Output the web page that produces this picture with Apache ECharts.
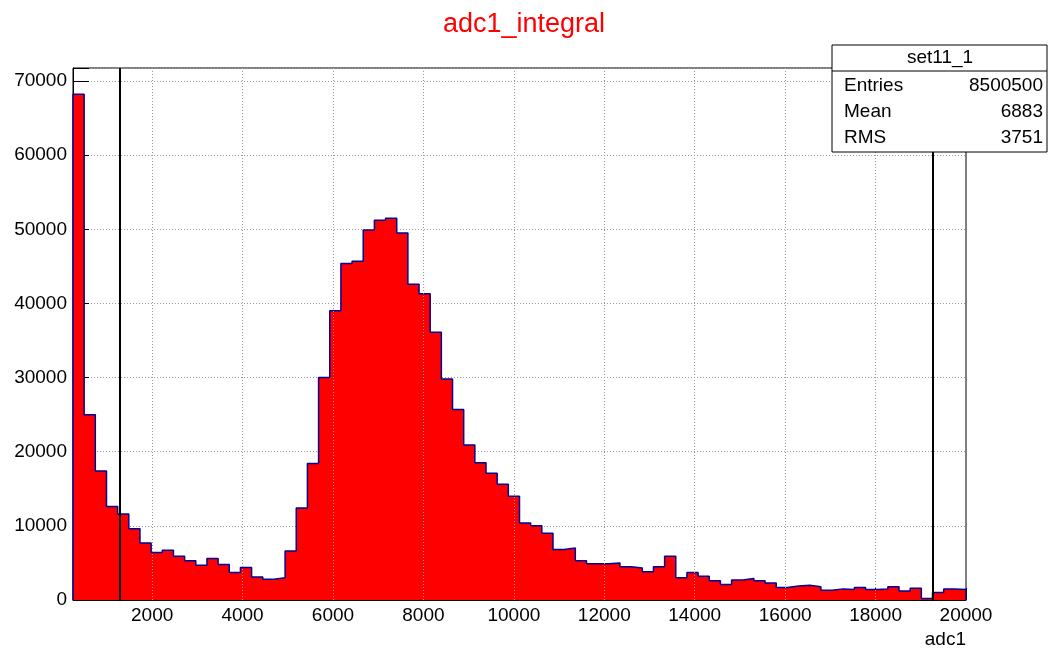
<!DOCTYPE html>
<html><head><meta charset="utf-8">
<script src="https://cdn.jsdelivr.net/npm/echarts@6/dist/echarts.min.js"></script>
<style>html,body{margin:0;padding:0;background:#fff}#main{width:1048px;height:648px}</style>
</head><body><div id="main"></div>
<script>
var binStart = 250;
var binEnd = 20000;
var counts = [68200, 25000, 17400, 12600, 11600, 9600, 7700, 6400, 6700, 5900,
  5300, 4700, 5600, 4800, 3700, 4400, 3100, 2800, 3000, 6600,
  12400, 18400, 30000, 39000, 45400, 45700, 49900, 51200, 51500, 49500,
  42600, 41300, 36100, 29800, 25700, 20900, 18500, 17100, 15600, 14000,
  10400, 10000, 9000, 6800, 7000, 5300, 4900, 4900, 5000, 4500,
  4300, 3800, 4500, 5900, 3000, 3700, 3200, 2600, 2100, 2700,
  2900, 2600, 2300, 1700, 1900, 2000, 1800, 1300, 1500, 1400,
  1700, 1400, 1500, 1800, 1200, 1600, 200, 1000, 1500, 1400];
var xTicks = [2000, 4000, 6000, 8000, 10000, 12000, 14000, 16000, 18000, 20000];
var cutLines = [1290, 19270];
var stats = [['Entries', '8500500'], ['Mean', '6883'], ['RMS', '3751']];

var binWidth = (binEnd - binStart) / counts.length;
var pts = [[binStart, 0]];
for (var i = 0; i < counts.length; i++) {
  pts.push([binStart + i * binWidth, counts[i]]);
}
pts.push([binEnd, counts[counts.length - 1]]);
pts.push([binEnd, 0]);

var chart = echarts.init(document.getElementById('main'));
var font = 'Liberation Sans';
var statsGraphics = [{
  type: 'rect', shape: {x: 832, y: 45, width: 215, height: 107},
  style: {fill: '#fff', stroke: '#000', lineWidth: 1}, z: 100
}, {
  type: 'line', shape: {x1: 832, y1: 71, x2: 1047, y2: 71},
  style: {stroke: '#000', lineWidth: 1}, z: 101
}, {
  type: 'text', x: 940, y: 48,
  style: {text: 'set11_1', font: '19px ' + font, fill: '#000', textAlign: 'center'}, z: 101
}];
stats.forEach(function (s, k) {
  statsGraphics.push({type: 'text', x: 844, y: 76 + k * 26,
    style: {text: s[0], font: '19px ' + font, fill: '#000'}, z: 101});
  statsGraphics.push({type: 'text', x: 1043, y: 76 + k * 26,
    style: {text: s[1], font: '19px ' + font, fill: '#000', textAlign: 'right'}, z: 101});
});

chart.setOption({
  animation: false,
  title: {text: 'adc1_integral', left: 'center', top: 6,
    textStyle: {color: '#ff0000', fontSize: 27, fontWeight: 'normal', fontFamily: font}},
  grid: {left: 73, right: 82, top: 68, bottom: 48, outerBoundsMode: 'none',
    show: true, borderColor: '#000', borderWidth: 1},
  xAxis: {
    type: 'value', min: binStart, max: binEnd,
    name: 'adc1', nameLocation: 'end', nameGap: 0,
    nameTextStyle: {fontFamily: font, fontSize: 19, color: '#000', align: 'right', verticalAlign: 'top', padding: [30, 0, 0, 0]},
    axisLine: {lineStyle: {color: '#000'}},
    axisTick: {show: true, customValues: xTicks, inside: true, length: 12, lineStyle: {color: '#000'}},
    axisLabel: {customValues: xTicks, color: '#000', fontSize: 19, fontFamily: font, margin: 6,
      formatter: function (v) { return String(v); }},
    splitLine: {show: false}
  },
  yAxis: {
    type: 'value', min: 0, max: 71750, interval: 10000,
    axisLine: {show: true, lineStyle: {color: '#000'}},
    axisTick: {show: true, inside: true, length: 16, lineStyle: {color: '#000'}},
    minorTick: {show: true, splitNumber: 5, length: 8, lineStyle: {color: '#000'}},
    axisLabel: {color: '#000', fontSize: 19, fontFamily: font, margin: 6,
      formatter: function (v) { return v > 70000 ? '' : String(v); }},
    splitLine: {show: true, lineStyle: {color: '#999', type: [1, 2]}}
  },
  series: [{
    type: 'line', step: 'end', data: pts, symbol: 'none',
    lineStyle: {color: '#000099', width: 1.5},
    areaStyle: {color: '#ff0000', opacity: 1},
    markLine: {
      silent: true, symbol: 'none', label: {show: false},
      lineStyle: {color: '#999', type: [1, 2], width: 1},
      data: xTicks.slice(0, 9).map(function (v) { return {xAxis: v}; })
    },
    z: 2
  }, {
    type: 'line', data: [], markLine: {
      silent: true, symbol: 'none', label: {show: false},
      lineStyle: {color: '#000', type: 'solid', width: 2},
      data: cutLines.map(function (v) { return {xAxis: v}; })
    }, z: 5
  }],
  graphic: statsGraphics
});
</script></body></html>
